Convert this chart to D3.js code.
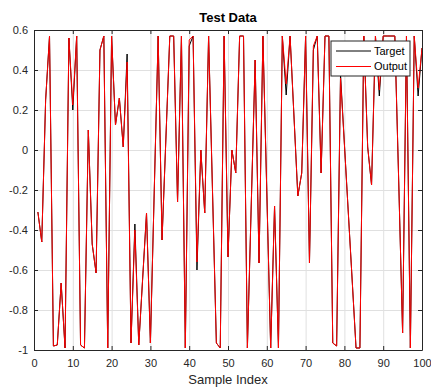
<!DOCTYPE html>
<html>
<head>
<meta charset="utf-8">
<script src="https://cdn.jsdelivr.net/npm/d3@7"></script>
<style>
  body { margin: 0; background: #fff; }
  svg { display: block; font-family: Arial, "Liberation Sans", Helvetica, sans-serif; }
</style>
</head>
<body>
<svg id="chart" width="431" height="387"></svg>
<script>
// values, sample index 1..100
const target = [
  -0.31, -0.46, 0.25, 0.57, -0.98, -0.975, -0.665, -0.99, 0.56, 0.2,
  0.57, -0.975, -0.99, 0.1, -0.47, -0.615, 0.5, 0.57, -0.99, 0.57,
  0.125, 0.26, 0.015, 0.48, -0.965, -0.37, -0.975, -0.645, -0.315, -0.965,
  -0.2, 0.57, -0.45, 0.06, 0.57, 0.57, -0.26, 0.57, -0.99, 0.52,
  0.57, -0.6, 0.0, -0.315, 0.57, -0.2, -0.965, -0.99, 0.57, -0.535,
  0.0, -0.115, 0.57, 0.57, -0.99, -0.27, 0.45, -0.565, 0.57, -0.21,
  -0.99, -0.28, -0.99, 0.57, 0.275, 0.57, 0.17, -0.23, -0.115, 0.57,
  -0.565, 0.5, 0.57, -0.115, 0.57, 0.57, -0.965, -0.98, 0.38, 0.03,
  -0.31, -0.65, -0.99, -0.99, 0.57, 0.015, -0.175, 0.57, 0.27, 0.57,
  0.57, 0.57, 0.57, -0.16, -0.915, 0.57, -0.99, 0.57, 0.27, 0.51
];
const output = [
  -0.31, -0.46, 0.25, 0.57, -0.98, -0.975, -0.665, -0.99, 0.56, 0.225,
  0.57, -0.975, -0.99, 0.1, -0.47, -0.615, 0.5, 0.57, -0.99, 0.57,
  0.125, 0.26, 0.015, 0.44, -0.965, -0.4, -0.975, -0.645, -0.315, -0.965,
  -0.2, 0.57, -0.45, 0.06, 0.57, 0.57, -0.26, 0.57, -0.99, 0.55,
  0.57, -0.56, 0.0, -0.315, 0.57, -0.2, -0.965, -0.99, 0.57, -0.535,
  0.0, -0.115, 0.57, 0.57, -0.99, -0.27, 0.45, -0.565, 0.57, -0.21,
  -0.99, -0.28, -0.99, 0.57, 0.33, 0.57, 0.17, -0.23, -0.115, 0.57,
  -0.565, 0.52, 0.57, -0.115, 0.57, 0.57, -0.965, -0.98, 0.36, 0.03,
  -0.31, -0.65, -0.99, -0.99, 0.57, 0.015, -0.175, 0.57, 0.3, 0.57,
  0.57, 0.57, 0.57, -0.16, -0.915, 0.57, -0.99, 0.57, 0.31, 0.51
];
const xTicks = [0, 10, 20, 30, 40, 50, 60, 70, 80, 90, 100];
const yTicks = [-1, -0.8, -0.6, -0.4, -0.2, 0, 0.2, 0.4, 0.6];
const seriesNames = ['Target', 'Output'];
const seriesColors = ['#000000', '#ff0000'];

const width = 431, height = 387;
const margin = { top: 30, right: 9, bottom: 37, left: 34 };
const innerWidth = width - margin.left - margin.right;
const innerHeight = height - margin.top - margin.bottom;
const axisColor = '#262626';

const svg = d3.select('#chart');
const g = svg.append('g')
  .attr('transform', `translate(${margin.left},${margin.top})`);

const x = d3.scaleLinear().domain([0, 100]).range([0, innerWidth]);
const y = d3.scaleLinear().domain([-1, 0.6]).range([innerHeight, 0]);

// Gridlines
g.append('g')
  .attr('transform', `translate(0,${innerHeight})`)
  .call(d3.axisBottom(x).tickValues(xTicks).tickSize(-innerHeight).tickFormat(''))
  .call(a => a.select('.domain').remove())
  .call(a => a.selectAll('text').remove())
  .selectAll('line').attr('stroke', '#e0e0e0');

g.append('g')
  .call(d3.axisLeft(y).tickValues(yTicks).tickSize(-innerWidth).tickFormat(''))
  .call(a => a.select('.domain').remove())
  .call(a => a.selectAll('text').remove())
  .selectAll('line').attr('stroke', '#e0e0e0');

// Lines
const line = d3.line()
  .x((d, i) => x(i + 1))
  .y(d => y(d));

[target, output].forEach((series, k) => {
  g.append('path')
    .datum(series)
    .attr('fill', 'none')
    .attr('stroke', seriesColors[k])
    .attr('stroke-width', 1)
    .attr('stroke-linejoin', 'round')
    .attr('d', line);
});

// Axes (box with inward ticks)
const fmt = d => String(+d.toFixed(1));

g.append('g')
  .attr('class', 'axis')
  .attr('transform', `translate(0,${innerHeight})`)
  .call(d3.axisBottom(x).tickValues(xTicks).tickSizeInner(-4).tickSizeOuter(0).tickPadding(9).tickFormat(fmt));

g.append('g')
  .attr('class', 'axis')
  .call(d3.axisTop(x).tickValues(xTicks).tickSizeInner(-4).tickSizeOuter(0).tickFormat(''))
  .call(a => a.selectAll('text').remove());

g.append('g')
  .attr('class', 'axis')
  .call(d3.axisLeft(y).tickValues(yTicks).tickSizeInner(-4).tickSizeOuter(0).tickPadding(6).tickFormat(fmt));

g.append('g')
  .attr('class', 'axis')
  .attr('transform', `translate(${innerWidth},0)`)
  .call(d3.axisRight(y).tickValues(yTicks).tickSizeInner(-4).tickSizeOuter(0).tickFormat(''))
  .call(a => a.selectAll('text').remove());

svg.selectAll('.axis line, .axis path').attr('stroke', axisColor);
svg.selectAll('.axis text')
  .attr('fill', axisColor)
  .attr('font-size', '11px')
  .attr('font-family', 'Arial, "Liberation Sans", sans-serif');

// Title and label
svg.append('text')
  .attr('x', margin.left + innerWidth / 2)
  .attr('y', 22)
  .attr('text-anchor', 'middle')
  .attr('font-size', '13px')
  .attr('font-weight', 'bold')
  .attr('fill', '#000')
  .text('Test Data');

svg.append('text')
  .attr('x', margin.left + innerWidth / 2)
  .attr('y', 384)
  .attr('text-anchor', 'middle')
  .attr('font-size', '13px')
  .attr('fill', axisColor)
  .text('Sample Index');

// Legend
const legend = svg.append('g').attr('transform', 'translate(331,41)');
legend.append('rect')
  .attr('width', 79).attr('height', 35)
  .attr('fill', '#fff')
  .attr('stroke', axisColor)
  .attr('stroke-width', 1);

seriesNames.forEach((name, k) => {
  const ly = 10 + k * 15.5;
  legend.append('line')
    .attr('x1', 5).attr('x2', 40)
    .attr('y1', ly).attr('y2', ly)
    .attr('stroke', seriesColors[k])
    .attr('stroke-width', 1);
  legend.append('text')
    .attr('x', 43).attr('y', ly)
    .attr('dy', '0.35em')
    .attr('font-size', '11px')
    .attr('fill', '#000')
    .text(name);
});
</script>
</body>
</html>
